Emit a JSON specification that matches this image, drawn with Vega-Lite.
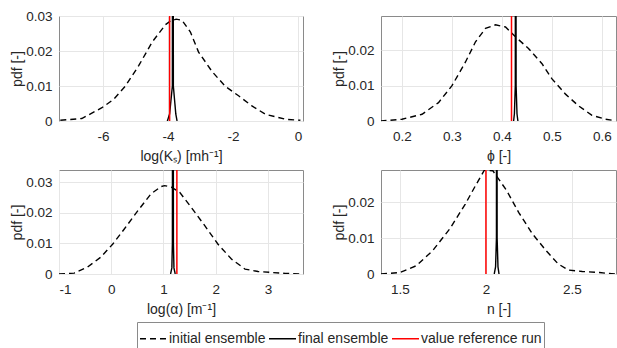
{
  "$schema": "https://vega.github.io/schema/vega-lite/v6.json",
  "background": "white",
  "padding": {"left": 9, "top": 8, "right": 0, "bottom": 0},
  "datasets": {
    "curves": [
      {"p": "ks", "s": "initial ensemble", "x": -7.31, "y": 0.0002},
      {"p": "ks", "s": "initial ensemble", "x": -6.65, "y": 0.0007},
      {"p": "ks", "s": "initial ensemble", "x": -6.03, "y": 0.0038},
      {"p": "ks", "s": "initial ensemble", "x": -5.67, "y": 0.0062},
      {"p": "ks", "s": "initial ensemble", "x": -5.31, "y": 0.0100},
      {"p": "ks", "s": "initial ensemble", "x": -4.9, "y": 0.0158},
      {"p": "ks", "s": "initial ensemble", "x": -4.49, "y": 0.0225},
      {"p": "ks", "s": "initial ensemble", "x": -4.08, "y": 0.0275},
      {"p": "ks", "s": "initial ensemble", "x": -3.93, "y": 0.0285},
      {"p": "ks", "s": "initial ensemble", "x": -3.75, "y": 0.0291},
      {"p": "ks", "s": "initial ensemble", "x": -3.57, "y": 0.0288},
      {"p": "ks", "s": "initial ensemble", "x": -3.31, "y": 0.0254},
      {"p": "ks", "s": "initial ensemble", "x": -3.06, "y": 0.0197},
      {"p": "ks", "s": "initial ensemble", "x": -2.65, "y": 0.0142},
      {"p": "ks", "s": "initial ensemble", "x": -2.24, "y": 0.0099},
      {"p": "ks", "s": "initial ensemble", "x": -1.83, "y": 0.0072},
      {"p": "ks", "s": "initial ensemble", "x": -1.42, "y": 0.0043},
      {"p": "ks", "s": "initial ensemble", "x": -1.0, "y": 0.0019},
      {"p": "ks", "s": "initial ensemble", "x": -0.39, "y": 0.0005},
      {"p": "ks", "s": "initial ensemble", "x": 0.07, "y": 0.0002},
      {"p": "ks", "s": "final ensemble", "x": -4.02, "y": 0},
      {"p": "ks", "s": "final ensemble", "x": -3.95, "y": 0.002},
      {"p": "ks", "s": "final ensemble", "x": -3.865, "y": 0.01},
      {"p": "ks", "s": "final ensemble", "x": -3.85, "y": 0.2},
      {"p": "ks", "s": "final ensemble", "x": -3.835, "y": 0.01},
      {"p": "ks", "s": "final ensemble", "x": -3.76, "y": 0.002},
      {"p": "ks", "s": "final ensemble", "x": -3.72, "y": 0},

      {"p": "phi", "s": "initial ensemble", "x": 0.157, "y": 0},
      {"p": "phi", "s": "initial ensemble", "x": 0.2, "y": 0.0005},
      {"p": "phi", "s": "initial ensemble", "x": 0.24, "y": 0.0019},
      {"p": "phi", "s": "initial ensemble", "x": 0.273, "y": 0.0052},
      {"p": "phi", "s": "initial ensemble", "x": 0.3, "y": 0.0100},
      {"p": "phi", "s": "initial ensemble", "x": 0.327, "y": 0.0167},
      {"p": "phi", "s": "initial ensemble", "x": 0.347, "y": 0.0224},
      {"p": "phi", "s": "initial ensemble", "x": 0.367, "y": 0.0262},
      {"p": "phi", "s": "initial ensemble", "x": 0.387, "y": 0.0272},
      {"p": "phi", "s": "initial ensemble", "x": 0.407, "y": 0.0266},
      {"p": "phi", "s": "initial ensemble", "x": 0.427, "y": 0.0238},
      {"p": "phi", "s": "initial ensemble", "x": 0.453, "y": 0.0205},
      {"p": "phi", "s": "initial ensemble", "x": 0.48, "y": 0.0162},
      {"p": "phi", "s": "initial ensemble", "x": 0.5, "y": 0.0119},
      {"p": "phi", "s": "initial ensemble", "x": 0.527, "y": 0.0076},
      {"p": "phi", "s": "initial ensemble", "x": 0.553, "y": 0.0043},
      {"p": "phi", "s": "initial ensemble", "x": 0.58, "y": 0.0016},
      {"p": "phi", "s": "initial ensemble", "x": 0.607, "y": 0.0005},
      {"p": "phi", "s": "initial ensemble", "x": 0.627, "y": 0.0001},
      {"p": "phi", "s": "final ensemble", "x": 0.4232, "y": 0},
      {"p": "phi", "s": "final ensemble", "x": 0.4248, "y": 0.002},
      {"p": "phi", "s": "final ensemble", "x": 0.4266, "y": 0.01},
      {"p": "phi", "s": "final ensemble", "x": 0.4274, "y": 0.2},
      {"p": "phi", "s": "final ensemble", "x": 0.4282, "y": 0.01},
      {"p": "phi", "s": "final ensemble", "x": 0.43, "y": 0.002},
      {"p": "phi", "s": "final ensemble", "x": 0.4318, "y": 0},

      {"p": "alpha", "s": "initial ensemble", "x": -1.0, "y": 0},
      {"p": "alpha", "s": "initial ensemble", "x": -0.71, "y": 0.0003},
      {"p": "alpha", "s": "initial ensemble", "x": -0.46, "y": 0.0022},
      {"p": "alpha", "s": "initial ensemble", "x": -0.2, "y": 0.0055},
      {"p": "alpha", "s": "initial ensemble", "x": 0.03, "y": 0.0098},
      {"p": "alpha", "s": "initial ensemble", "x": 0.25, "y": 0.0147},
      {"p": "alpha", "s": "initial ensemble", "x": 0.51, "y": 0.0207},
      {"p": "alpha", "s": "initial ensemble", "x": 0.76, "y": 0.0262},
      {"p": "alpha", "s": "initial ensemble", "x": 0.955, "y": 0.0286},
      {"p": "alpha", "s": "initial ensemble", "x": 1.02, "y": 0.0289},
      {"p": "alpha", "s": "initial ensemble", "x": 1.15, "y": 0.0284},
      {"p": "alpha", "s": "initial ensemble", "x": 1.31, "y": 0.0267},
      {"p": "alpha", "s": "initial ensemble", "x": 1.53, "y": 0.0218},
      {"p": "alpha", "s": "initial ensemble", "x": 1.79, "y": 0.0158},
      {"p": "alpha", "s": "initial ensemble", "x": 2.04, "y": 0.0098},
      {"p": "alpha", "s": "initial ensemble", "x": 2.3, "y": 0.0049},
      {"p": "alpha", "s": "initial ensemble", "x": 2.56, "y": 0.0016},
      {"p": "alpha", "s": "initial ensemble", "x": 2.81, "y": 0.0008},
      {"p": "alpha", "s": "initial ensemble", "x": 3.07, "y": 0.0005},
      {"p": "alpha", "s": "initial ensemble", "x": 3.33, "y": 0.0002},
      {"p": "alpha", "s": "initial ensemble", "x": 3.65, "y": 0},
      {"p": "alpha", "s": "final ensemble", "x": 1.135, "y": 0},
      {"p": "alpha", "s": "final ensemble", "x": 1.16, "y": 0.002},
      {"p": "alpha", "s": "final ensemble", "x": 1.17, "y": 0.01},
      {"p": "alpha", "s": "final ensemble", "x": 1.18, "y": 0.2},
      {"p": "alpha", "s": "final ensemble", "x": 1.19, "y": 0.01},
      {"p": "alpha", "s": "final ensemble", "x": 1.2, "y": 0.002},
      {"p": "alpha", "s": "final ensemble", "x": 1.224, "y": 0},

      {"p": "n", "s": "initial ensemble", "x": 1.39, "y": 0},
      {"p": "n", "s": "initial ensemble", "x": 1.5, "y": 0.0004},
      {"p": "n", "s": "initial ensemble", "x": 1.595, "y": 0.0023},
      {"p": "n", "s": "initial ensemble", "x": 1.69, "y": 0.0065},
      {"p": "n", "s": "initial ensemble", "x": 1.79, "y": 0.0126},
      {"p": "n", "s": "initial ensemble", "x": 1.88, "y": 0.0195},
      {"p": "n", "s": "initial ensemble", "x": 1.94, "y": 0.0247},
      {"p": "n", "s": "initial ensemble", "x": 1.99, "y": 0.0289},
      {"p": "n", "s": "initial ensemble", "x": 2.04, "y": 0.0288},
      {"p": "n", "s": "initial ensemble", "x": 2.12, "y": 0.0233},
      {"p": "n", "s": "initial ensemble", "x": 2.19, "y": 0.0172},
      {"p": "n", "s": "initial ensemble", "x": 2.27, "y": 0.0112},
      {"p": "n", "s": "initial ensemble", "x": 2.35, "y": 0.0065},
      {"p": "n", "s": "initial ensemble", "x": 2.42, "y": 0.0028},
      {"p": "n", "s": "initial ensemble", "x": 2.48, "y": 0.0011},
      {"p": "n", "s": "initial ensemble", "x": 2.56, "y": 0.0007},
      {"p": "n", "s": "initial ensemble", "x": 2.66, "y": 0.0004},
      {"p": "n", "s": "initial ensemble", "x": 2.75, "y": 0},
      {"p": "n", "s": "final ensemble", "x": 2.048, "y": 0},
      {"p": "n", "s": "final ensemble", "x": 2.056, "y": 0.002},
      {"p": "n", "s": "final ensemble", "x": 2.061, "y": 0.01},
      {"p": "n", "s": "final ensemble", "x": 2.063, "y": 0.2},
      {"p": "n", "s": "final ensemble", "x": 2.065, "y": 0.01},
      {"p": "n", "s": "final ensemble", "x": 2.07, "y": 0.002},
      {"p": "n", "s": "final ensemble", "x": 2.076, "y": 0}
    ],
    "refs": [
      {"p": "ks", "s": "value reference run", "x": -3.95},
      {"p": "phi", "s": "value reference run", "x": 0.419},
      {"p": "alpha", "s": "value reference run", "x": 1.256},
      {"p": "n", "s": "value reference run", "x": 2.0}
    ]
  },
  "columns": 2,
  "bounds": "flush",
  "spacing": {"row": 49, "column": 78},
  "resolve": {"scale": {"x": "independent", "y": "independent", "color": "shared", "strokeDash": "shared"}},
  "concat": [
    {
      "width": 244, "height": 105,
      "layer": [
        {
          "data": {"name": "curves"},
          "transform": [{"filter": "datum.p == 'ks'"}],
          "mark": {"type": "line", "clip": true, "strokeWidth": 1.4},
          "encoding": {
            "x": {"field": "x", "type": "quantitative", "scale": {"domain": [-7.35, 0.15], "nice": false, "zero": false}, "axis": {"title": "log(Kₛ) [mh⁻¹]", "values": [-6, -4, -2, 0]}},
            "y": {"field": "y", "type": "quantitative", "scale": {"domain": [0, 0.03], "nice": false}, "axis": {"title": "pdf [-]", "values": [0, 0.01, 0.02, 0.03]}},
            "color": {"field": "s", "type": "nominal", "scale": {"domain": ["initial ensemble", "final ensemble", "value reference run"], "range": ["#000000", "#000000", "#ff0000"]}},
            "strokeDash": {"field": "s", "type": "nominal", "scale": {"domain": ["initial ensemble", "final ensemble", "value reference run"], "range": [[6, 4], [1, 0], [1, 0]]}}
          }
        },
        {
          "data": {"name": "refs"},
          "transform": [{"filter": "datum.p == 'ks'"}],
          "mark": {"type": "rule", "strokeWidth": 1.5},
          "encoding": {
            "x": {"field": "x", "type": "quantitative"},
            "color": {"field": "s", "type": "nominal"},
            "strokeDash": {"field": "s", "type": "nominal"}
          }
        }
      ]
    },
    {
      "width": 235, "height": 105,
      "layer": [
        {
          "data": {"name": "curves"},
          "transform": [{"filter": "datum.p == 'phi'"}],
          "mark": {"type": "line", "clip": true, "strokeWidth": 1.4},
          "encoding": {
            "x": {"field": "x", "type": "quantitative", "scale": {"domain": [0.158, 0.628], "nice": false, "zero": false}, "axis": {"title": "ϕ [-]", "values": [0.2, 0.3, 0.4, 0.5, 0.6]}},
            "y": {"field": "y", "type": "quantitative", "scale": {"domain": [0, 0.0297], "nice": false}, "axis": {"title": "pdf [-]", "values": [0, 0.01, 0.02]}},
            "color": {"field": "s", "type": "nominal"},
            "strokeDash": {"field": "s", "type": "nominal"}
          }
        },
        {
          "data": {"name": "refs"},
          "transform": [{"filter": "datum.p == 'phi'"}],
          "mark": {"type": "rule", "strokeWidth": 1.5},
          "encoding": {
            "x": {"field": "x", "type": "quantitative"},
            "color": {"field": "s", "type": "nominal"},
            "strokeDash": {"field": "s", "type": "nominal"}
          }
        }
      ]
    },
    {
      "width": 244, "height": 104,
      "layer": [
        {
          "data": {"name": "curves"},
          "transform": [{"filter": "datum.p == 'alpha'"}],
          "mark": {"type": "line", "clip": true, "strokeWidth": 1.4},
          "encoding": {
            "x": {"field": "x", "type": "quantitative", "scale": {"domain": [-1, 3.67], "nice": false, "zero": false}, "axis": {"title": "log(α) [m⁻¹]", "values": [-1, 0, 1, 2, 3]}},
            "y": {"field": "y", "type": "quantitative", "scale": {"domain": [0, 0.034], "nice": false}, "axis": {"title": "pdf [-]", "values": [0, 0.01, 0.02, 0.03]}},
            "color": {"field": "s", "type": "nominal"},
            "strokeDash": {"field": "s", "type": "nominal"}
          }
        },
        {
          "data": {"name": "refs"},
          "transform": [{"filter": "datum.p == 'alpha'"}],
          "mark": {"type": "rule", "strokeWidth": 1.5},
          "encoding": {
            "x": {"field": "x", "type": "quantitative"},
            "color": {"field": "s", "type": "nominal"},
            "strokeDash": {"field": "s", "type": "nominal"}
          }
        }
      ]
    },
    {
      "width": 235, "height": 104,
      "layer": [
        {
          "data": {"name": "curves"},
          "transform": [{"filter": "datum.p == 'n'"}],
          "mark": {"type": "line", "clip": true, "strokeWidth": 1.4},
          "encoding": {
            "x": {"field": "x", "type": "quantitative", "scale": {"domain": [1.39, 2.756], "nice": false, "zero": false}, "axis": {"title": "n [-]", "values": [1.5, 2, 2.5]}},
            "y": {"field": "y", "type": "quantitative", "scale": {"domain": [0, 0.029], "nice": false}, "axis": {"title": "pdf [-]", "values": [0, 0.01, 0.02]}},
            "color": {"field": "s", "type": "nominal"},
            "strokeDash": {"field": "s", "type": "nominal"}
          }
        },
        {
          "data": {"name": "refs"},
          "transform": [{"filter": "datum.p == 'n'"}],
          "mark": {"type": "rule", "strokeWidth": 1.5},
          "encoding": {
            "x": {"field": "x", "type": "quantitative"},
            "color": {"field": "s", "type": "nominal"},
            "strokeDash": {"field": "s", "type": "nominal"}
          }
        }
      ]
    }
  ],
  "config": {
    "font": "Liberation Sans",
    "view": {"stroke": "#8a8a8a", "strokeWidth": 1},
    "axis": {
      "domain": false,
      "ticks": false,
      "grid": true,
      "gridColor": "#e6e6e6",
      "gridWidth": 1,
      "labelFont": "Liberation Sans",
      "labelFontSize": 13.5,
      "labelColor": "#262626",
      "labelExpr": "'' + datum.value",
      "titleFont": "Liberation Sans",
      "titleFontSize": 14,
      "titleFontWeight": "normal",
      "titleColor": "#262626"
    },
    "axisX": {"labelPadding": 8, "titlePadding": 7},
    "axisY": {"labelPadding": 7, "titlePadding": 2, "minExtent": 33, "maxExtent": 33},
    "legend": {
      "orient": "none",
      "legendX": 78,
      "legendY": 306,
      "direction": "horizontal",
      "title": null,
      "symbolType": "stroke",
      "symbolSize": 729,
      "symbolStrokeWidth": 1.5,
      "labelFont": "Liberation Sans",
      "labelFontSize": 14,
      "labelColor": "#262626",
      "labelOffset": 1,
      "columnPadding": 0,
      "padding": 2,
      "strokeColor": "#8a8a8a",
      "fillColor": "white"
    }
  }
}
